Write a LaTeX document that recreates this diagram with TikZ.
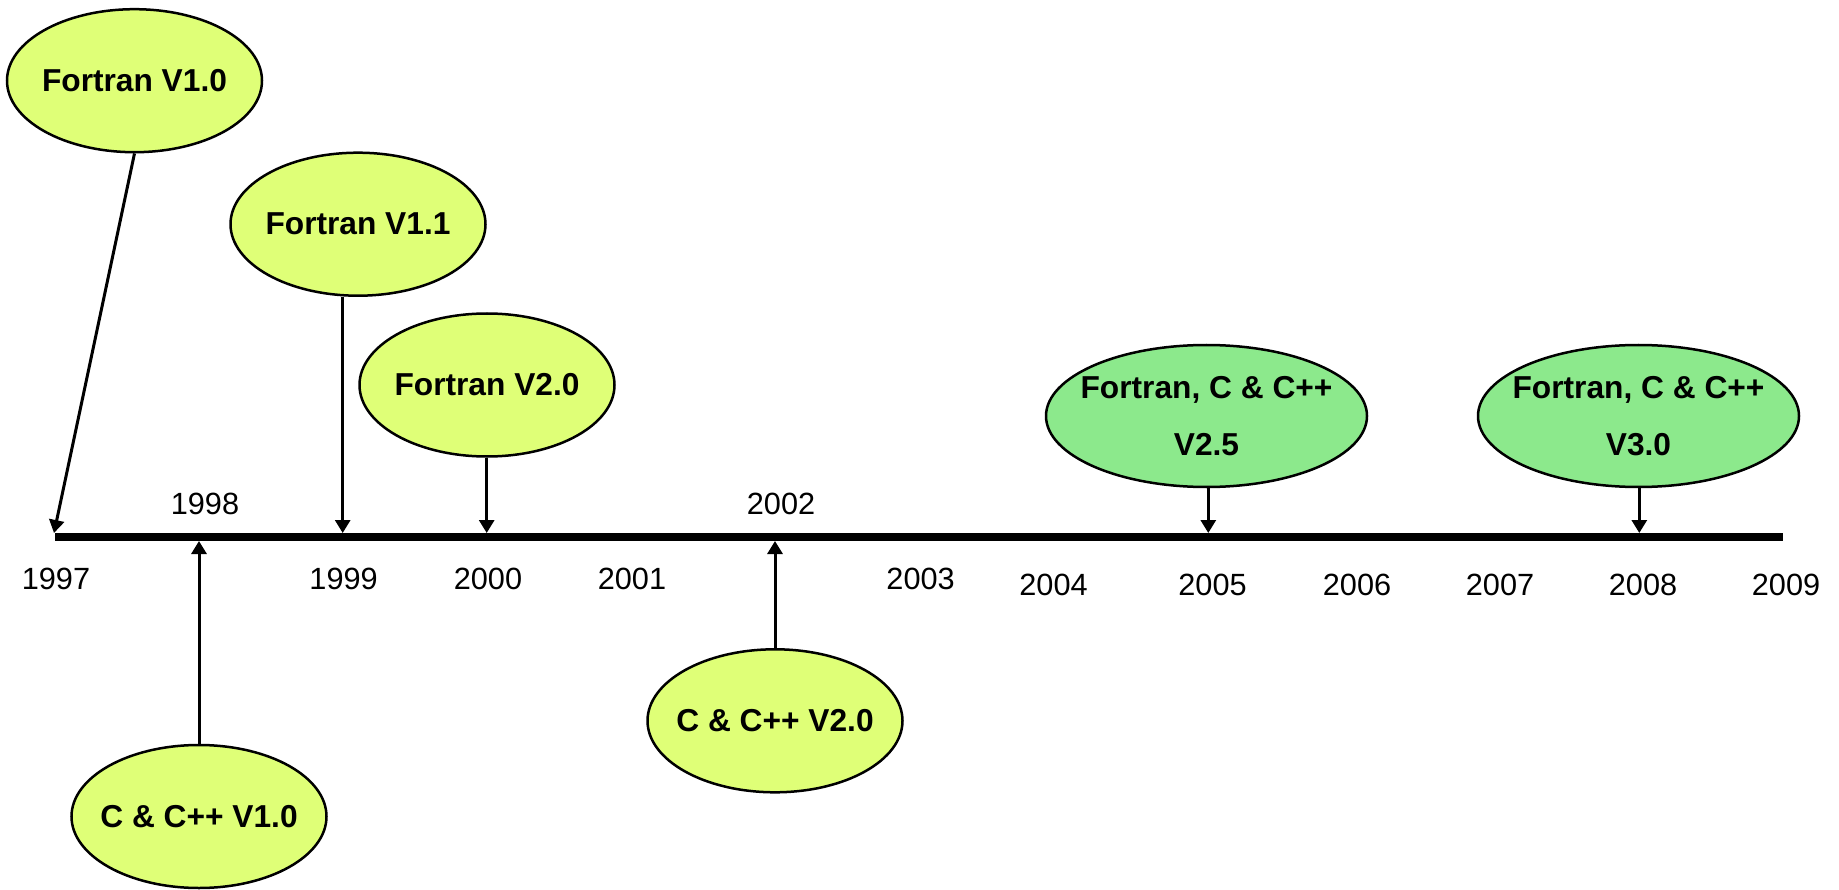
\documentclass[tikz,border=0pt]{standalone}
\usepackage{fontspec}
\setmainfont{Liberation Sans}
\usetikzlibrary{shapes.geometric,arrows.meta}
\definecolor{ylw}{HTML}{DFFF77}
\definecolor{grn}{HTML}{8CE98C}
\begin{document}
\begin{tikzpicture}[x=1pt,y=-1pt,
  ver/.style={ellipse, draw, line width=2.5pt, inner sep=0pt, minimum width=255pt, minimum height=143pt, fill=ylw},
  vergreen/.style={ver, fill=grn, minimum width=321pt, minimum height=142pt},
  lbl/.style={font=\fontsize{31.7}{57}\selectfont\bfseries, align=center, inner sep=0pt},
  yr/.style={font=\fontsize{30.7}{36}\selectfont, inner sep=0pt},
  arr/.style={line width=3pt, -{Triangle[length=13pt,width=15pt]}},
  axisline/.style={line width=7.7pt}]
\useasboundingbox (0,0) rectangle (1839,890);

% timeline
\coordinate (a0) at (55,537);
\coordinate (a1) at (1783,537);
\draw[axisline] (a0) -- (a1);

% arrow targets on the timeline
\coordinate (t1997) at (54,533);
\coordinate (t1998) at (199,541);
\coordinate (t1999) at (342.7,533);
\coordinate (t2000) at (486.7,533);
\coordinate (t2002) at (775,541);
\coordinate (t2005) at (1208.3,533);
\coordinate (t2008) at (1639.3,533);

% version ellipses
\node[ver, label={[lbl]center:Fortran V1.0}] (f10) at (134.5,80.7) {};
\node[ver, label={[lbl]center:Fortran V1.1}] (f11) at (358,224.2) {};
\node[ver, label={[lbl]center:Fortran V2.0}] (f20) at (487,385) {};
\node[ver, label={[lbl]center:C \& C++ V1.0}] (c10) at (199,816.5) {};
\node[ver, label={[lbl]center:C \& C++ V2.0}] (c20) at (775,720.8) {};
\node[vergreen, label={[lbl]center:{Fortran, C \& C++\\V2.5}}] (g25) at (1206.5,416) {};
\node[vergreen, label={[lbl]center:{Fortran, C \& C++\\V3.0}}] (g30) at (1638.5,416) {};

% connectors
\draw[arr] (f10.south) -- (t1997);
\draw[arr] (c10.north) -- (t1998);
\draw[arr] (f11.south -| t1999) -- (t1999);
\draw[arr] (f20.south -| t2000) -- (t2000);
\draw[arr] (c20.north) -- (t2002);
\draw[arr] (g25.south -| t2005) -- (t2005);
\draw[arr] (g30.south -| t2008) -- (t2008);

% year labels
\node[yr] (y1997) at (56,579) {1997};
\node[yr] (y1998) at (205,504) {1998};
\node[yr] (y1999) at (343.6,579) {1999};
\node[yr] (y2000) at (488,579) {2000};
\node[yr] (y2001) at (632,579) {2001};
\node[yr] (y2002) at (781,504) {2002};
\node[yr] (y2003) at (920.6,579) {2003};
\node[yr] (y2004) at (1053.5,585) {2004};
\node[yr] (y2005) at (1212.5,585) {2005};
\node[yr] (y2006) at (1357,585) {2006};
\node[yr] (y2007) at (1500,585) {2007};
\node[yr] (y2008) at (1643,585) {2008};
\node[yr] (y2009) at (1786,585) {2009};
\end{tikzpicture}
\end{document}
